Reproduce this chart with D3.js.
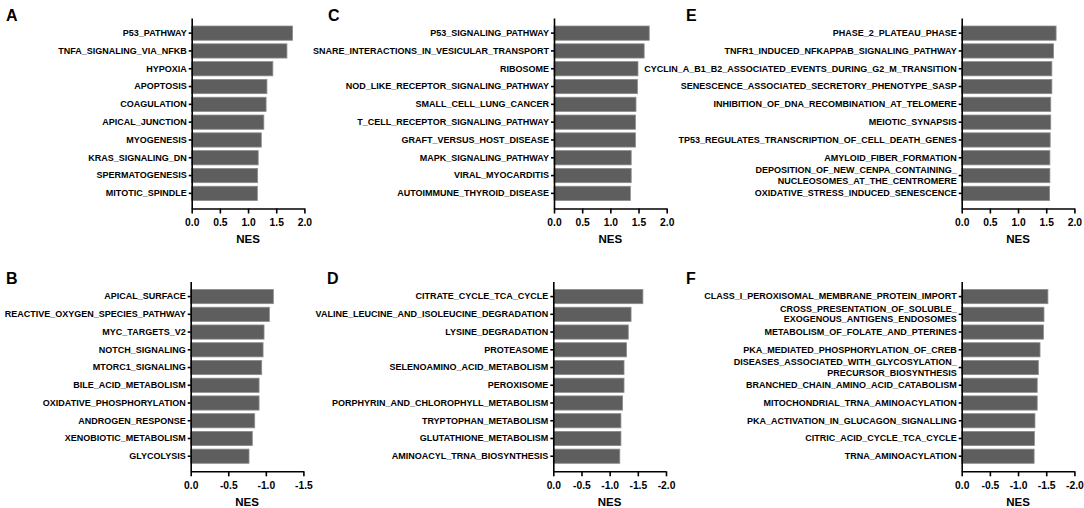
<!DOCTYPE html>
<html>
<head>
<meta charset="utf-8">
<script src="https://cdn.jsdelivr.net/npm/d3@7"></script>
<style>
  body { margin: 0; background: #fff; }
  svg text { font-family: "Liberation Sans", Arial, sans-serif; font-weight: bold; fill: #000; }
  .axis path, .axis line { stroke: #000; stroke-width: 1.6; }
  .x-axis text { font-size: 10.3px; }
  .y-axis text { font-size: 9px; }
</style>
</head>
<body>
<svg id="chart" width="1084" height="508"></svg>
<script>
// panel A: hallmark, up
const catsA = ["P53_PATHWAY", "TNFA_SIGNALING_VIA_NFKB", "HYPOXIA", "APOPTOSIS", "COAGULATION",
  "APICAL_JUNCTION", "MYOGENESIS", "KRAS_SIGNALING_DN", "SPERMATOGENESIS", "MITOTIC_SPINDLE"]
const nesA = [1.79, 1.69, 1.44, 1.335, 1.32, 1.28, 1.235, 1.18, 1.17, 1.165]

// panel B: hallmark, down
const catsB = ["APICAL_SURFACE", "REACTIVE_OXYGEN_SPECIES_PATHWAY", "MYC_TARGETS_V2", "NOTCH_SIGNALING",
  "MTORC1_SIGNALING", "BILE_ACID_METABOLISM", "OXIDATIVE_PHOSPHORYLATION", "ANDROGEN_RESPONSE",
  "XENOBIOTIC_METABOLISM", "GLYCOLYSIS"]
const nesB = [-1.10, -1.047, -0.976, -0.963, -0.945, -0.91, -0.91, -0.852, -0.82, -0.776]

// panel C: kegg, up
const catsC = ["P53_SIGNALING_PATHWAY", "SNARE_INTERACTIONS_IN_VESICULAR_TRANSPORT", "RIBOSOME",
  "NOD_LIKE_RECEPTOR_SIGNALING_PATHWAY", "SMALL_CELL_LUNG_CANCER", "T_CELL_RECEPTOR_SIGNALING_PATHWAY",
  "GRAFT_VERSUS_HOST_DISEASE", "MAPK_SIGNALING_PATHWAY", "VIRAL_MYOCARDITIS", "AUTOIMMUNE_THYROID_DISEASE"]
const nesC = [1.69, 1.60, 1.49, 1.48, 1.455, 1.445, 1.445, 1.37, 1.37, 1.355]

// panel D: kegg, down
const catsD = ["CITRATE_CYCLE_TCA_CYCLE", "VALINE_LEUCINE_AND_ISOLEUCINE_DEGRADATION", "LYSINE_DEGRADATION",
  "PROTEASOME", "SELENOAMINO_ACID_METABOLISM", "PEROXISOME", "PORPHYRIN_AND_CHLOROPHYLL_METABOLISM",
  "TRYPTOPHAN_METABOLISM", "GLUTATHIONE_METABOLISM", "AMINOACYL_TRNA_BIOSYNTHESIS"]
const nesD = [-1.59, -1.38, -1.33, -1.30, -1.255, -1.255, -1.23, -1.20, -1.20, -1.18]

// panel E: reactome, up
const catsE = ["PHASE_2_PLATEAU_PHASE", "TNFR1_INDUCED_NFKAPPAB_SIGNALING_PATHWAY",
  "CYCLIN_A_B1_B2_ASSOCIATED_EVENTS_DURING_G2_M_TRANSITION", "SENESCENCE_ASSOCIATED_SECRETORY_PHENOTYPE_SASP",
  "INHIBITION_OF_DNA_RECOMBINATION_AT_TELOMERE", "MEIOTIC_SYNAPSIS", "TP53_REGULATES_TRANSCRIPTION_OF_CELL_DEATH_GENES",
  "AMYLOID_FIBER_FORMATION", "DEPOSITION_OF_NEW_CENPA_CONTAINING_\nNUCLEOSOMES_AT_THE_CENTROMERE",
  "OXIDATIVE_STRESS_INDUCED_SENESCENCE"]
const nesE = [1.675, 1.63, 1.60, 1.60, 1.58, 1.58, 1.57, 1.565, 1.565, 1.56]

// panel F: reactome, down
const catsF = ["CLASS_I_PEROXISOMAL_MEMBRANE_PROTEIN_IMPORT", "CROSS_PRESENTATION_OF_SOLUBLE_\nEXOGENOUS_ANTIGENS_ENDOSOMES",
  "METABOLISM_OF_FOLATE_AND_PTERINES", "PKA_MEDIATED_PHOSPHORYLATION_OF_CREB",
  "DISEASES_ASSOCIATED_WITH_GLYCOSYLATION_\nPRECURSOR_BIOSYNTHESIS", "BRANCHED_CHAIN_AMINO_ACID_CATABOLISM",
  "MITOCHONDRIAL_TRNA_AMINOACYLATION", "PKA_ACTIVATION_IN_GLUCAGON_SIGNALLING", "CITRIC_ACID_CYCLE_TCA_CYCLE",
  "TRNA_AMINOACYLATION"]
const nesF = [-1.53, -1.46, -1.45, -1.39, -1.36, -1.34, -1.34, -1.30, -1.29, -1.285]

const ticksUp = [0, 0.5, 1.0, 1.5, 2.0]
const ticksDownB = [0, -0.5, -1.0, -1.5]
const ticksDown = [0, -0.5, -1.0, -1.5, -2.0]

const panels = [
  {letter: "A", cats: catsA, vals: nesA, ticks: ticksUp,    left: 191.7, top: 18,    bottom: 208.5},
  {letter: "B", cats: catsB, vals: nesB, ticks: ticksDownB, left: 190.7, top: 281.5, bottom: 471.3},
  {letter: "C", cats: catsC, vals: nesC, ticks: ticksUp,    left: 554,   top: 18,    bottom: 208.5},
  {letter: "D", cats: catsD, vals: nesD, ticks: ticksDown,  left: 553.3, top: 281.5, bottom: 471.3},
  {letter: "E", cats: catsE, vals: nesE, ticks: ticksUp,    left: 961.7, top: 18,    bottom: 208.5},
  {letter: "F", cats: catsF, vals: nesF, ticks: ticksDown,  left: 961.7, top: 281.5, bottom: 471.3},
]
const letterX = {A: 6, B: 6, C: 328, D: 327, E: 686, F: 686}
const axisWidth = 112.7

const svg = d3.select('#chart')

panels.forEach(p => {
  const g = svg.append('g')

  const xScale = d3.scaleLinear()
    .domain([p.ticks[0], p.ticks[p.ticks.length - 1]])
    .range([p.left, p.left + axisWidth])
  const yScale = d3.scaleBand()
    .domain(p.cats)
    .range([p.top, p.bottom])
    .paddingInner(0.2)
    .paddingOuter(0.45)

  g.selectAll('.bar')
    .data(p.cats)
    .join('rect')
      .attr('class', 'bar')
      .attr('x', xScale(0))
      .attr('y', d => yScale(d))
      .attr('width', (d, i) => xScale(p.vals[i]) - xScale(0))
      .attr('height', yScale.bandwidth())
      .attr('fill', '#5e5e5e')
      .attr('stroke', '#8c8c8c')
      .attr('stroke-width', 0.8)

  const xAxis = d3.axisBottom(xScale)
    .tickValues(p.ticks)
    .tickSize(5)
    .tickSizeOuter(0)
    .tickPadding(5)
    .tickFormat(d => Math.abs(d) < 1e-9 ? "0.0" : d.toFixed(1))

  g.append('g')
    .attr('class', 'axis x-axis')
    .attr('transform', `translate(0, ${p.bottom})`)
    .call(xAxis)

  const yAxis = d3.axisLeft(yScale)
    .tickSize(3)
    .tickSizeOuter(0)
    .tickPadding(2)

  const yAxisG = g.append('g')
    .attr('class', 'axis y-axis')
    .attr('transform', `translate(${xScale(0)}, 0)`)
    .call(yAxis)

  // split two-line labels
  yAxisG.selectAll('.tick text').each(function(d) {
    const lines = d.split('\n')
    if (lines.length < 2) return
    const t = d3.select(this).text(null).attr('dy', null)
    lines.forEach((line, i) => {
      t.append('tspan')
        .attr('x', -5)
        .attr('dy', i === 0 ? '-0.25em' : '1.15em')
        .text(line)
    })
  })

  g.append('text')
    .attr('x', p.left + axisWidth / 2)
    .attr('y', p.bottom + 34.5)
    .attr('text-anchor', 'middle')
    .attr('font-size', 11.5)
    .text('NES')

  g.append('text')
    .attr('x', letterX[p.letter])
    .attr('y', p.top + 2.5)
    .attr('font-size', 16)
    .text(p.letter)
})
</script>
</body>
</html>
